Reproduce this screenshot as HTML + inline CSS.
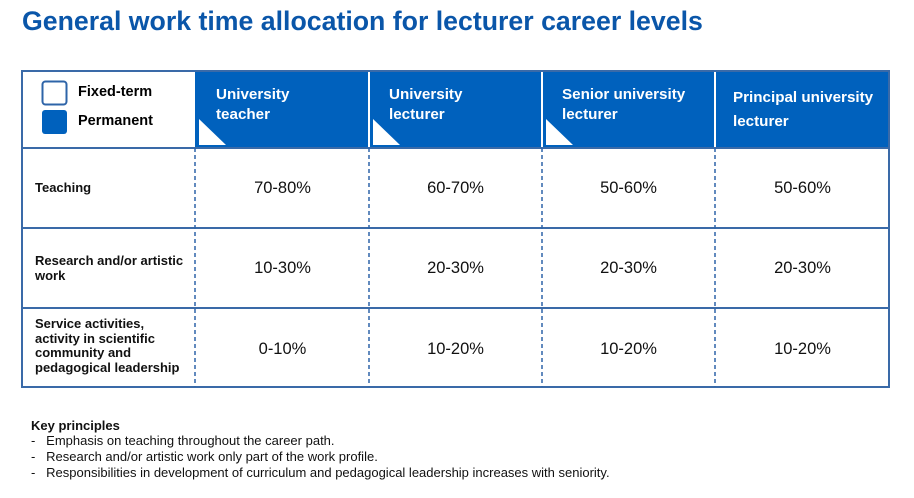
<!DOCTYPE html>
<html><head><meta charset="utf-8"><style>
body{margin:0;width:914px;height:498px;background:#fff;position:relative;font-family:"Liberation Sans",Arial,sans-serif;overflow:hidden}
.a{position:absolute;white-space:nowrap}
.h{color:#fff;font-weight:bold;font-size:15.2px;line-height:20px}
.v{font-size:16.5px;color:#111;text-align:center;width:173px}
.l{font-size:13px;font-weight:bold;color:#111;line-height:14.5px}
.k{font-size:13px;color:#111;left:31px}
</style></head><body>
<div class="a" style="left:22px;top:6px;font-size:26.7px;font-weight:bold;color:#0a56a9">General work time allocation for lecturer career levels</div>
<svg class="a" style="left:0;top:0" width="914" height="498">
<rect x="195" y="71" width="694" height="77" fill="#0061bd"/>
<g stroke="#fff" stroke-width="2"><line x1="369" y1="71" x2="369" y2="148"/><line x1="542" y1="71" x2="542" y2="148"/><line x1="715" y1="71" x2="715" y2="148"/></g>
<g fill="#fff"><polygon points="199,119 199,145 226,145"/><polygon points="373,119 373,145 400,145"/><polygon points="546,119 546,145 573,145"/></g>
<g stroke="#3a6aa8" stroke-width="2" fill="none">
<rect x="22" y="71" width="867" height="316"/>
<line x1="22" y1="148" x2="889" y2="148"/>
<line x1="22" y1="228" x2="889" y2="228"/>
<line x1="22" y1="308" x2="889" y2="308"/>
</g>
<g stroke="#2e64a8" stroke-width="1.5" stroke-dasharray="4,3">
<line x1="195" y1="148" x2="195" y2="387"/><line x1="369" y1="148" x2="369" y2="387"/><line x1="542" y1="148" x2="542" y2="387"/><line x1="715" y1="148" x2="715" y2="387"/>
</g>
<rect x="42.5" y="81.5" width="24" height="23" rx="3" fill="#fff" stroke="#2e64a8" stroke-width="2"/>
<rect x="42" y="110" width="25" height="24" rx="3" fill="#0061bd"/>
</svg>
<div class="a" style="left:78px;top:84px;font-size:14.5px;font-weight:bold">Fixed-term</div>
<div class="a" style="left:78px;top:113px;font-size:14.5px;font-weight:bold">Permanent</div>
<div class="a h" style="left:216px;top:85px">University<br>teacher</div>
<div class="a h" style="left:389px;top:85px">University<br>lecturer</div>
<div class="a h" style="left:562px;top:85px">Senior university<br>lecturer</div>
<div class="a h" style="left:733px;top:86px;line-height:24px">Principal university<br>lecturer</div>
<div class="a l" style="left:35px;top:181px">Teaching</div>
<div class="a l" style="left:35px;top:254px">Research and/or artistic<br>work</div>
<div class="a l" style="left:35px;top:317px">Service activities,<br>activity in scientific<br>community and<br>pedagogical leadership</div>
<div class="a v" style="left:196px;top:179px">70-80%</div><div class="a v" style="left:369px;top:179px">60-70%</div><div class="a v" style="left:542px;top:179px">50-60%</div><div class="a v" style="left:716px;top:179px">50-60%</div>
<div class="a v" style="left:196px;top:259px">10-30%</div><div class="a v" style="left:369px;top:259px">20-30%</div><div class="a v" style="left:542px;top:259px">20-30%</div><div class="a v" style="left:716px;top:259px">20-30%</div>
<div class="a v" style="left:196px;top:340px">0-10%</div><div class="a v" style="left:369px;top:340px">10-20%</div><div class="a v" style="left:542px;top:340px">10-20%</div><div class="a v" style="left:716px;top:340px">10-20%</div>
<div class="a k" style="top:418px;font-weight:bold">Key principles</div>
<div class="a k" style="top:433px">-&nbsp;&nbsp;&nbsp;Emphasis on teaching throughout the career path.</div>
<div class="a k" style="top:449px">-&nbsp;&nbsp;&nbsp;Research and/or artistic work only part of the work profile.</div>
<div class="a k" style="top:465px">-&nbsp;&nbsp;&nbsp;Responsibilities in development of curriculum and pedagogical leadership increases with seniority.</div>
</body></html>
